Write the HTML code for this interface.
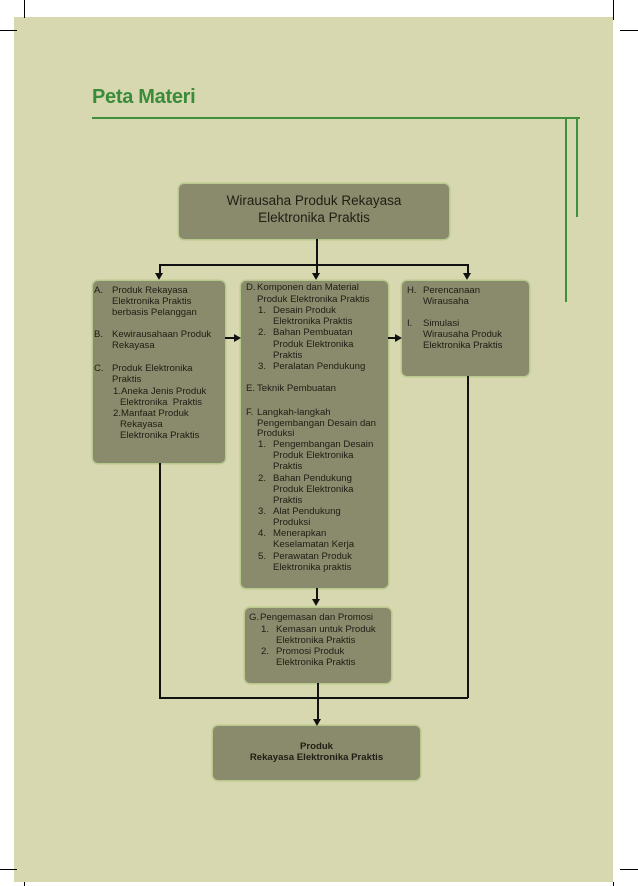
<!DOCTYPE html>
<html><head><meta charset="utf-8"><style>
html,body{margin:0;padding:0;background:#fff;}
#p{position:relative;width:638px;height:886px;overflow:hidden;background:#fff;font-family:"Liberation Sans",Arial,sans-serif;}
.bg{position:absolute;left:14px;top:17px;width:599px;height:865px;background:#d7d8b0;}
.k{position:absolute;background:#000;}
.g{position:absolute;background:#3f8f3f;}
.box{position:absolute;background:#8a8a6d;border-radius:5px;box-shadow:0 0 0 1.5px #b9c98d;}
.t{position:absolute;font-size:9.6px;line-height:12px;color:#1e1e14;white-space:nowrap;}
.ln{position:absolute;background:#111;}
.ar{position:absolute;width:0;height:0;border-left:4px solid transparent;border-right:4px solid transparent;border-top:7px solid #111;}
.arr{position:absolute;width:0;height:0;border-top:4px solid transparent;border-bottom:4px solid transparent;border-left:7px solid #111;}
</style></head><body><div id="p">
<div class="bg"></div>
<!-- crop marks -->
<div class="k" style="left:24px;top:0;width:1px;height:18px"></div>
<div class="k" style="left:0;top:30px;width:17px;height:1px"></div>
<div class="k" style="left:613px;top:0;width:1px;height:20px"></div>
<div class="k" style="left:620px;top:30px;width:18px;height:1px"></div>
<div class="k" style="left:0;top:869px;width:17px;height:1px"></div>
<div class="k" style="left:620px;top:869px;width:18px;height:1px"></div>
<div class="k" style="left:24px;top:882px;width:1px;height:4px"></div>
<div class="k" style="left:613px;top:882px;width:1px;height:4px"></div>

<div style="position:absolute;left:92px;top:86px;font-size:20px;font-weight:bold;color:#3a8c3a;letter-spacing:-0.3px">Peta Materi</div>
<div class="g" style="left:92px;top:117px;width:488px;height:2px"></div>
<div class="g" style="left:565px;top:117px;width:2px;height:185px"></div>
<div class="g" style="left:576px;top:117px;width:2px;height:100px"></div>

<!-- top box -->
<div class="box" style="left:179px;top:184px;width:270px;height:55px"></div>
<div style="position:absolute;left:179px;top:192px;width:270px;text-align:center;font-size:13.5px;line-height:17px;color:#1e1e14">Wirausaha Produk Rekayasa<br>Elektronika Praktis</div>

<!-- connectors -->
<div class="ln" style="left:316px;top:239px;width:1.5px;height:35px"></div>
<div class="ln" style="left:159px;top:264px;width:309px;height:1.5px"></div>
<div class="ln" style="left:159px;top:264px;width:1.5px;height:10px"></div>
<div class="ln" style="left:467px;top:264px;width:1.5px;height:10px"></div>
<div class="ar" style="left:155px;top:273px"></div>
<div class="ar" style="left:312px;top:273px"></div>
<div class="ar" style="left:463px;top:273px"></div>

<!-- boxes -->
<div class="box" style="left:93px;top:281px;width:132px;height:182px"></div>
<div class="box" style="left:241px;top:281px;width:147px;height:307px"></div>
<div class="box" style="left:402px;top:281px;width:127px;height:95px"></div>
<div class="box" style="left:245px;top:608px;width:146px;height:75px"></div>
<div class="box" style="left:213px;top:726px;width:207px;height:54px"></div>

<div class="ln" style="left:225px;top:337px;width:10px;height:1.5px"></div>
<div class="arr" style="left:234px;top:334px"></div>
<div class="ln" style="left:388px;top:337px;width:8px;height:1.5px"></div>
<div class="arr" style="left:395px;top:334px"></div>
<div class="ln" style="left:316px;top:588px;width:1.5px;height:12px"></div>
<div class="ar" style="left:312px;top:599px"></div>
<div class="ln" style="left:159px;top:463px;width:1.5px;height:234px"></div>
<div class="ln" style="left:159px;top:697px;width:309px;height:1.5px"></div>
<div class="ln" style="left:467px;top:376px;width:1.5px;height:322px"></div>
<div class="ln" style="left:317px;top:683px;width:1.5px;height:36px"></div>
<div class="ar" style="left:313px;top:719px"></div>

<!-- Box A -->
<div class="t" style="left:94px;top:285px">A.</div>
<div class="t" style="left:112px;top:285px">Produk Rekayasa</div>
<div class="t" style="left:112px;top:296px">Elektronika Praktis</div>
<div class="t" style="left:112px;top:307px">berbasis Pelanggan</div>
<div class="t" style="left:94px;top:329px">B.</div>
<div class="t" style="left:112px;top:329px">Kewirausahaan Produk</div>
<div class="t" style="left:112px;top:340px">Rekayasa</div>
<div class="t" style="left:94px;top:363px">C.</div>
<div class="t" style="left:112px;top:363px">Produk Elektronika</div>
<div class="t" style="left:112px;top:374px">Praktis</div>
<div class="t" style="left:113px;top:386px">1.Aneka Jenis Produk</div>
<div class="t" style="left:120px;top:397px">Elektronika &nbsp;Praktis</div>
<div class="t" style="left:113px;top:408px">2.Manfaat Produk</div>
<div class="t" style="left:120px;top:419px">Rekayasa</div>
<div class="t" style="left:120px;top:430px">Elektronika Praktis</div>

<!-- Box D -->
<div class="t" style="left:246px;top:282px">D.</div>
<div class="t" style="left:257px;top:282px">Komponen dan Material</div>
<div class="t" style="left:257px;top:294px">Produk Elektronika Praktis</div>
<div class="t" style="left:258px;top:305px">1.</div><div class="t" style="left:273px;top:305px">Desain Produk</div>
<div class="t" style="left:273px;top:316px">Elektronika Praktis</div>
<div class="t" style="left:258px;top:327px">2.</div><div class="t" style="left:273px;top:327px">Bahan Pembuatan</div>
<div class="t" style="left:273px;top:339px">Produk Elektronika</div>
<div class="t" style="left:273px;top:350px">Praktis</div>
<div class="t" style="left:258px;top:361px">3.</div><div class="t" style="left:273px;top:361px">Peralatan Pendukung</div>
<div class="t" style="left:246px;top:383px">E.</div><div class="t" style="left:257px;top:383px">Teknik Pembuatan</div>
<div class="t" style="left:246px;top:407px">F.</div><div class="t" style="left:257px;top:407px">Langkah-langkah</div>
<div class="t" style="left:257px;top:418px">Pengembangan Desain dan</div>
<div class="t" style="left:257px;top:428px">Produksi</div>
<div class="t" style="left:258px;top:439px">1.</div><div class="t" style="left:273px;top:439px">Pengembangan Desain</div>
<div class="t" style="left:273px;top:450px">Produk Elektronika</div>
<div class="t" style="left:273px;top:461px">Praktis</div>
<div class="t" style="left:258px;top:473px">2.</div><div class="t" style="left:273px;top:473px">Bahan Pendukung</div>
<div class="t" style="left:273px;top:484px">Produk Elektronika</div>
<div class="t" style="left:273px;top:495px">Praktis</div>
<div class="t" style="left:258px;top:506px">3.</div><div class="t" style="left:273px;top:506px">Alat Pendukung</div>
<div class="t" style="left:273px;top:517px">Produksi</div>
<div class="t" style="left:258px;top:528px">4.</div><div class="t" style="left:273px;top:528px">Menerapkan</div>
<div class="t" style="left:273px;top:539px">Keselamatan Kerja</div>
<div class="t" style="left:258px;top:551px">5.</div><div class="t" style="left:273px;top:551px">Perawatan Produk</div>
<div class="t" style="left:273px;top:562px">Elektronika praktis</div>

<!-- Box H -->
<div class="t" style="left:407px;top:285px">H.</div><div class="t" style="left:423px;top:285px">Perencanaan</div>
<div class="t" style="left:423px;top:296px">Wirausaha</div>
<div class="t" style="left:407px;top:318px">I.</div><div class="t" style="left:423px;top:318px">Simulasi</div>
<div class="t" style="left:423px;top:329px">Wirausaha Produk</div>
<div class="t" style="left:423px;top:340px">Elektronika Praktis</div>

<!-- Box G -->
<div class="t" style="left:249px;top:612px">G.</div><div class="t" style="left:260px;top:612px">Pengemasan dan Promosi</div>
<div class="t" style="left:261px;top:624px">1.</div><div class="t" style="left:276px;top:624px">Kemasan untuk Produk</div>
<div class="t" style="left:276px;top:635px">Elektronika Praktis</div>
<div class="t" style="left:261px;top:646px">2.</div><div class="t" style="left:276px;top:646px">Promosi Produk</div>
<div class="t" style="left:276px;top:657px">Elektronika Praktis</div>

<!-- final -->
<div style="position:absolute;left:213px;top:741px;width:207px;text-align:center;font-size:9.6px;line-height:11px;font-weight:bold;color:#1e1e14">Produk<br>Rekayasa Elektronika Praktis</div>
</div></body></html>
